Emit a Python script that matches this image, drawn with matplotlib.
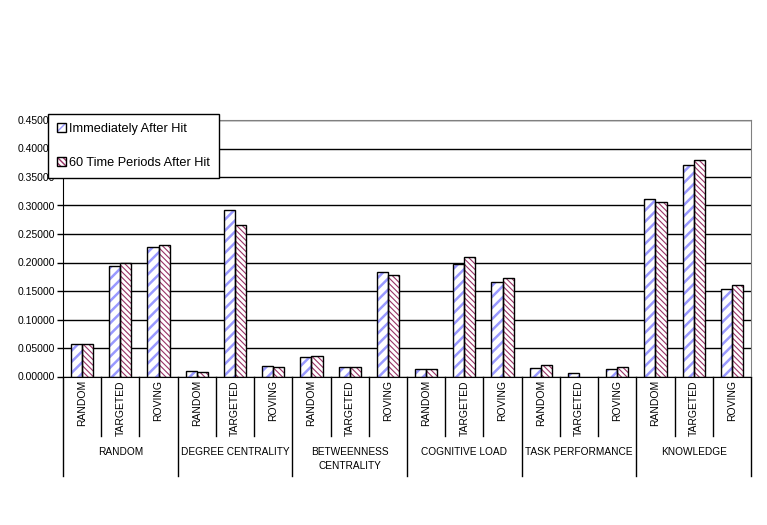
import matplotlib
matplotlib.use("Agg")
import matplotlib.pyplot as plt
from matplotlib.patches import Patch
from matplotlib.ticker import FormatStrFormatter
import numpy as np

plt.rcParams['font.family'] = ['Liberation Sans', 'DejaVu Sans']

groups = ["RANDOM", "DEGREE CENTRALITY", "BETWEENNESS\nCENTRALITY",
          "COGNITIVE LOAD", "TASK PERFORMANCE", "KNOWLEDGE"]
attacks = ["RANDOM", "TARGETED", "ROVING"]
series_names = ["Immediately After Hit", "60 Time Periods After Hit"]

immediately = [0.0563, 0.1930, 0.2276,
               0.0096, 0.2920, 0.0178,
               0.0335, 0.0160, 0.1840,
               0.0126, 0.1980, 0.1664,
               0.0143, 0.0056, 0.0130,
               0.3115, 0.3715, 0.1540]
after_60 = [0.0563, 0.1997, 0.2310,
            0.0073, 0.2660, 0.0160,
            0.0353, 0.0160, 0.1787,
            0.0126, 0.2100, 0.1734,
            0.0196, 0.0000, 0.0160,
            0.3060, 0.3797, 0.1610]

blue = "#9999ff"
red = "#993366"
blue_hatch = "///"
red_hatch = "\\" * 6

W, H = 767, 525
fig = plt.figure(figsize=(W / 100, H / 100), dpi=100)
ax_l, ax_r, ax_t, ax_b = 63, 751, 120, 376.5
ax = fig.add_axes([ax_l / W, 1 - ax_b / H, (ax_r - ax_l) / W, (ax_b - ax_t) / H])
ax_h = ax_b - ax_t

x = np.arange(len(immediately))
bw = 0.29

with plt.rc_context({'hatch.linewidth': 1.8}):
    ax.bar(x - bw / 2, immediately, bw, color="white", edgecolor=blue,
           hatch=blue_hatch, linewidth=0, zorder=3)
with plt.rc_context({'hatch.linewidth': 0.8}):
    ax.bar(x + bw / 2, after_60, bw, color="white", edgecolor=red,
           hatch=red_hatch, linewidth=0, zorder=3)
ax.bar(x - bw / 2, immediately, bw, fill=False, edgecolor="black", linewidth=1, zorder=4)
ax.bar(x + bw / 2, [v if v > 0 else np.nan for v in after_60], bw, fill=False,
       edgecolor="black", linewidth=1, zorder=4)

ax.set_xlim(-0.5, len(x) - 0.5)
ax.set_ylim(0, 0.45)
ax.set_yticks(np.arange(0, 0.4501, 0.05))
ax.yaxis.set_major_formatter(FormatStrFormatter("%.5f"))
ax.tick_params(axis="y", direction="out", length=4, width=1, labelsize=7.5, pad=2)
ax.set_xticks([])
ax.yaxis.grid(True, color="black", linewidth=1)
ax.set_axisbelow(True)
for s in ["left", "bottom"]:
    ax.spines[s].set_color("black")
for s in ["top", "right"]:
    ax.spines[s].set_color("#808080")
ax.spines["bottom"].set_zorder(5)

# category axis below the plot
tr = ax.get_xaxis_transform()
def fy(px):
    return -px / ax_h

for i in range(len(x)):
    ax.text(i, fy(3.5), attacks[i % 3], rotation=90, ha="center", va="top",
            fontsize=7.5, transform=tr)
for b in np.arange(-0.5, len(x), 1):
    k = int(b + 0.5)
    depth = 99.5 if k % 3 == 0 else 59.5
    ax.plot([b, b], [0, fy(depth)], color="black", linewidth=1,
            transform=tr, clip_on=False)
for g, name in enumerate(groups):
    ax.text(3 * g + 1, fy(70.5), name, ha="center", va="top", fontsize=7.3,
            linespacing=1.55, transform=tr)

with plt.rc_context({'hatch.linewidth': 1.8}):
    p1 = Patch(facecolor="white", edgecolor=blue, hatch=blue_hatch, linewidth=0)
with plt.rc_context({'hatch.linewidth': 0.8}):
    p2 = Patch(facecolor="white", edgecolor=red, hatch=red_hatch, linewidth=0)
h1 = (p1, Patch(fill=False, edgecolor="black", linewidth=1))
h2 = (p2, Patch(fill=False, edgecolor="black", linewidth=1))
leg = fig.legend([h1, h2], series_names, loc="upper left",
                 bbox_to_anchor=(48 / W, 1 - 114 / H), borderaxespad=0,
                 fontsize=9.2, handlelength=0.7, handleheight=0.7,
                 handletextpad=0.25, labelspacing=1.7, borderpad=0.7,
                 fancybox=False, framealpha=1, edgecolor="black")
leg.get_frame().set_linewidth(1)
leg.set_zorder(10)

fig.savefig("out.png", dpi=100)
